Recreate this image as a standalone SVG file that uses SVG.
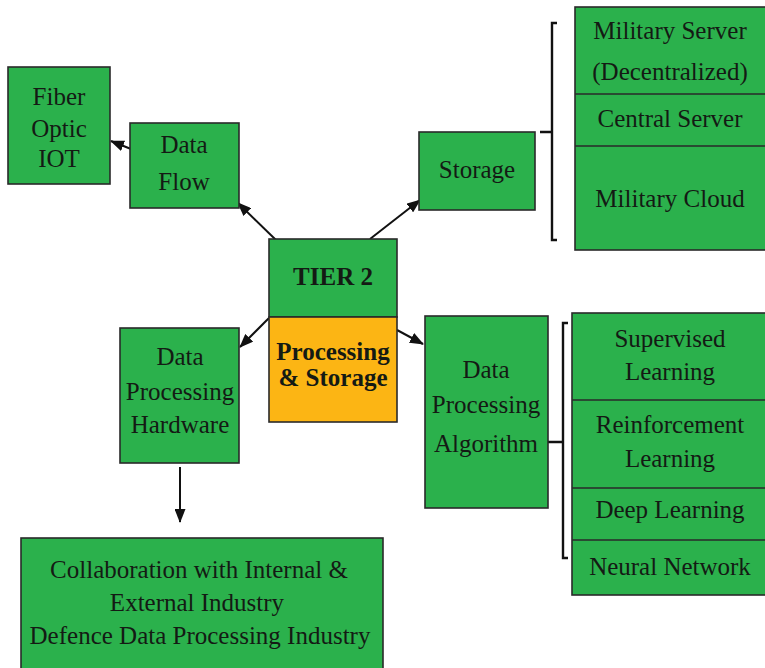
<svg xmlns="http://www.w3.org/2000/svg" width="765" height="668" viewBox="0 0 765 668">
  <style>
    .box { fill: #2bb14c; stroke: #2a2a2a; stroke-width: 1.6; }
    .core { fill: #fcb514; stroke: #2a2a2a; stroke-width: 1.6; }
    .sep { stroke: #2a2a2a; stroke-width: 1.4; fill: none; }
    text { font-family: "Liberation Serif", "DejaVu Serif", serif; font-size: 25px; fill: #141a14; text-anchor: middle; }
    .bold { font-weight: bold; }
    .link { stroke: #111; stroke-width: 2; fill: none; marker-end: url(#head); }
    .brace { stroke: #111; stroke-width: 2.4; fill: none; }
  </style>
  <defs>
    <marker id="head" viewBox="0 0 14 11" refX="13" refY="5.5" markerWidth="14" markerHeight="11" markerUnits="userSpaceOnUse" orient="auto">
      <path d="M0,0 L14,5.5 L0,11 Z" fill="#111"/>
    </marker>
  </defs>

  <rect width="765" height="668" fill="#ffffff"/>

  <!-- connectors -->
  <g id="connectors">
    <line class="link" x1="276" y1="240" x2="238" y2="203"/>
    <line class="link" x1="131" y1="149" x2="111" y2="141"/>
    <line class="link" x1="370" y1="239" x2="420" y2="200"/>
    <line class="link" x1="269" y1="318" x2="240" y2="347"/>
    <line class="link" x1="397" y1="330" x2="423" y2="344"/>
    <line class="link" x1="180" y1="467" x2="180" y2="522"/>
    <path class="brace" d="M557,23 H552 V240 H557 M540,132 H552"/>
    <path class="brace" d="M568,323 H563 V558 H568 M548,442 H563"/>
  </g>

  <g id="fiber-optic-iot">
    <rect class="box" x="8" y="67" width="102" height="117"/>
    <text x="59" y="105">Fiber</text>
    <text x="59" y="137">Optic</text>
    <text x="59" y="167">IOT</text>
  </g>

  <g id="data-flow">
    <rect class="box" x="130" y="123" width="109" height="85"/>
    <text x="184" y="153">Data</text>
    <text x="184" y="190">Flow</text>
  </g>

  <g id="tier-2">
    <rect class="box" x="269" y="239" width="128" height="78"/>
    <text class="bold" x="333" y="285">TIER 2</text>
  </g>

  <g id="processing-storage">
    <rect class="core" x="269" y="317" width="128" height="105"/>
    <text class="bold" x="333" y="360">Processing</text>
    <text class="bold" x="333" y="386">&amp; Storage</text>
  </g>

  <g id="storage">
    <rect class="box" x="419" y="132" width="116" height="78"/>
    <text x="477" y="178">Storage</text>
  </g>

  <g id="storage-options">
    <rect class="box" x="575" y="7" width="195" height="243"/>
    <line class="sep" x1="575" y1="94" x2="765" y2="94"/>
    <line class="sep" x1="575" y1="146" x2="765" y2="146"/>
    <text x="670" y="39">Military Server</text>
    <text x="670" y="80">(Decentralized)</text>
    <text x="670" y="127">Central Server</text>
    <text x="670" y="207">Military Cloud</text>
  </g>

  <g id="data-processing-hardware">
    <rect class="box" x="120" y="328" width="119" height="135"/>
    <text x="180" y="365">Data</text>
    <text x="180" y="400">Processing</text>
    <text x="180" y="433">Hardware</text>
  </g>

  <g id="data-processing-algorithm">
    <rect class="box" x="425" y="316" width="123" height="192"/>
    <text x="486" y="378">Data</text>
    <text x="486" y="413">Processing</text>
    <text x="486" y="452">Algorithm</text>
  </g>

  <g id="algorithm-options">
    <rect class="box" x="572" y="313" width="198" height="282"/>
    <line class="sep" x1="572" y1="400" x2="765" y2="400"/>
    <line class="sep" x1="572" y1="488" x2="765" y2="488"/>
    <line class="sep" x1="572" y1="540" x2="765" y2="540"/>
    <text x="670" y="347">Supervised</text>
    <text x="670" y="380">Learning</text>
    <text x="670" y="433">Reinforcement</text>
    <text x="670" y="467">Learning</text>
    <text x="670" y="518">Deep Learning</text>
    <text x="670" y="575">Neural Network</text>
  </g>

  <g id="collaboration">
    <rect class="box" x="21" y="538" width="362" height="135"/>
    <text x="199" y="578">Collaboration with Internal &amp;</text>
    <text x="197" y="611">External Industry</text>
    <text x="200" y="644">Defence Data Processing Industry</text>
  </g>
</svg>
